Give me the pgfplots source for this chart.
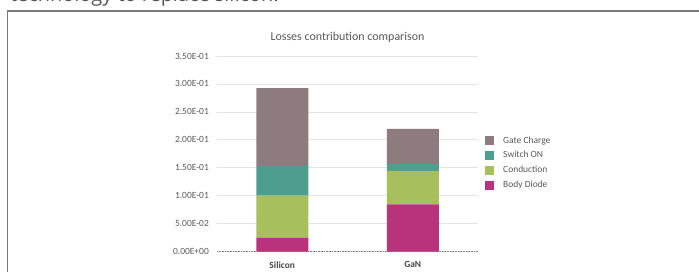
\documentclass[border=0pt]{standalone}
\usepackage{fontspec}
\setmainfont{Carlito}
\newfontfamily\topfont{Open Sans}
\usepackage{pgfplots}
\pgfplotsset{compat=1.18}
\definecolor{gatec}{HTML}{8D7B7E}
\definecolor{switchc}{HTML}{4E9E90}
\definecolor{condc}{HTML}{A8BF5E}
\definecolor{bodyc}{HTML}{B8327C}
\definecolor{framec}{HTML}{7A7A7A}
\definecolor{topc}{HTML}{555555}
\definecolor{labc}{HTML}{595959}
\definecolor{gridc}{HTML}{E4E4E4}
\begin{document}
\begin{tikzpicture}
\useasboundingbox (0bp,0bp) rectangle (699bp,272bp);
\clip (0bp,0bp) rectangle (699bp,272bp);
\node[anchor=base west, inner sep=0pt, text=topc, font=\topfont\fontsize{20}{24}\selectfont] at (10bp,270.5bp) {technology to replace silicon.};
\draw[framec, line width=1.1bp] (7.5bp,-2bp) -- (7.5bp,261bp) -- (702bp,261bp);
\begin{axis}[
  at={(217bp,20.5bp)}, anchor=south west,
  scale only axis, width=261bp, height=195.5bp,
  ybar stacked, bar width=52bp,
  xmin=-0.5, xmax=1.5, ymin=0, ymax=0.35,
  xtick={0,1}, xticklabels={Silicon,GaN},
  ytick={0,0.05,0.1,0.15,0.2,0.25,0.3,0.35},
  yticklabels={0.00E+00,5.00E-02,1.00E-01,1.50E-01,2.00E-01,2.50E-01,3.00E-01,3.50E-01},
  major tick length=0pt,
  separate axis lines,
  axis x line*=bottom, axis y line*=left,
  y axis line style={draw=none},
  x axis line style={densely dotted, draw=gray, line width=0.6bp, -},
  ymajorgrids, grid style={gridc, line width=0.6bp},
  yticklabel style={font=\fontsize{9.5}{11}\selectfont, text=labc, anchor=east, inner sep=0pt, xshift=-8bp},
  xticklabel style={font=\bfseries\fontsize{9.5}{11}\selectfont, text=labc!80!black, anchor=north, inner sep=0pt, yshift=-10bp},
  title={Losses contribution comparison},
  title style={font=\fontsize{12}{14}\selectfont, text=labc, anchor=center, yshift=13bp},
  reverse legend,
  legend cell align=left,
  legend image code/.code={\fill[#1,draw=none] (0bp,-4.5bp) rectangle (9bp,4.5bp);},
  legend style={at={(1.027,0.59)}, anchor=north west, draw=none, fill=none,
    font=\fontsize{9.5}{11}\selectfont, text=labc, row sep=5.8bp, inner sep=0pt,
    nodes={inner sep=0pt, text height=6.5bp, text depth=2bp},
    /tikz/every odd column/.append style={column sep=9bp}},
]
\addplot[fill=bodyc, draw=none] coordinates {(0,0.025) (1,0.0845)};
\addlegendentry{Body Diode}
\addplot[fill=condc, draw=none] coordinates {(0,0.075) (1,0.060)};
\addlegendentry{Conduction}
\addplot[fill=switchc, draw=none] coordinates {(0,0.0545) (1,0.012)};
\addlegendentry{Switch ON}
\addplot[fill=gatec, draw=none] coordinates {(0,0.138) (1,0.063)};
\addlegendentry{Gate Charge}
\end{axis}
\end{tikzpicture}
\end{document}
